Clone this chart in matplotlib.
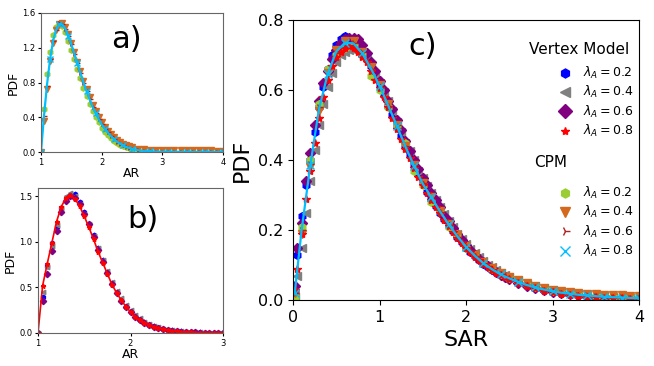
import matplotlib
matplotlib.use("Agg")
import matplotlib.pyplot as plt
from matplotlib.lines import Line2D

# ---- panel a: CPM, AR distributions ----
ar_a = [1.0, 1.05, 1.1, 1.15, 1.2, 1.25, 1.3, 1.35, 1.4, 1.45, 1.5, 1.55, 1.6, 1.65, 1.7,
        1.75, 1.8, 1.85, 1.9, 1.95, 2.0, 2.05, 2.1, 2.15, 2.2, 2.25, 2.3, 2.35, 2.4, 2.45, 2.5,
        2.6, 2.7, 2.8, 2.9, 3.0, 3.1, 3.2, 3.3, 3.4, 3.5, 3.6, 3.7, 3.8, 3.9, 4.0]
cpm_a_02 = [0.0, 0.5, 0.9, 1.15, 1.35, 1.44, 1.47, 1.45, 1.38, 1.28, 1.17, 1.07, 0.96, 0.85, 0.74,
            0.64, 0.55, 0.47, 0.40, 0.34, 0.28, 0.235, 0.195, 0.16, 0.13, 0.105, 0.085, 0.068, 0.053, 0.041, 0.032,
            0.018, 0.01, 0.006, 0.004, 0.003, 0.002, 0.002, 0.001, 0.001, 0.001, 0.001, 0.001, 0.001, 0.001, 0.001]
cpm_a_04 = [0.0, 0.36, 0.73, 1.05, 1.25, 1.40, 1.47, 1.49, 1.44, 1.36, 1.26, 1.15, 1.04, 0.93, 0.82,
            0.72, 0.63, 0.54, 0.47, 0.40, 0.34, 0.29, 0.245, 0.205, 0.17, 0.14, 0.115, 0.095, 0.078, 0.065, 0.054,
            0.04, 0.031, 0.026, 0.023, 0.021, 0.02, 0.02, 0.019, 0.019, 0.018, 0.018, 0.018, 0.018, 0.017, 0.017]
cpm_a_06 = [0.0, 0.42, 0.76, 1.07, 1.28, 1.41, 1.48, 1.47, 1.42, 1.34, 1.24, 1.13, 1.02, 0.91, 0.80,
            0.70, 0.61, 0.52, 0.45, 0.38, 0.32, 0.27, 0.225, 0.185, 0.15, 0.12, 0.097, 0.077, 0.06, 0.047, 0.036,
            0.021, 0.012, 0.007, 0.004, 0.003, 0.002, 0.002, 0.002, 0.001, 0.001, 0.001, 0.001, 0.001, 0.001, 0.001]
cpm_a_08 = [0.0, 0.42, 0.78, 1.07, 1.28, 1.41, 1.47, 1.47, 1.42, 1.34, 1.24, 1.13, 1.02, 0.91, 0.80,
            0.70, 0.61, 0.52, 0.45, 0.38, 0.32, 0.27, 0.225, 0.185, 0.15, 0.12, 0.097, 0.077, 0.06, 0.047, 0.036,
            0.021, 0.012, 0.007, 0.004, 0.003, 0.002, 0.002, 0.002, 0.001, 0.001, 0.001, 0.001, 0.001, 0.001, 0.001]

# ---- panel b: vertex model, AR distributions ----
ar_b = [1.0, 1.05, 1.1, 1.15, 1.2, 1.25, 1.3, 1.35, 1.4, 1.45, 1.5, 1.55, 1.6, 1.65, 1.7, 1.75, 1.8,
        1.85, 1.9, 1.95, 2.0, 2.05, 2.1, 2.15, 2.2, 2.25, 2.3, 2.35, 2.4, 2.45, 2.5, 2.55, 2.6, 2.65,
        2.7, 2.75, 2.8, 2.85, 2.9, 2.95, 3.0]
vm_b_02 = [0.0, 0.40, 0.73, 0.99, 1.16, 1.36, 1.47, 1.50, 1.52, 1.44, 1.33, 1.20, 1.08, 0.93, 0.80, 0.67, 0.55,
           0.45, 0.36, 0.29, 0.23, 0.185, 0.148, 0.117, 0.093, 0.073, 0.058, 0.045, 0.036, 0.028, 0.022, 0.017,
           0.013, 0.01, 0.008, 0.006, 0.005, 0.004, 0.003, 0.003, 0.002]
vm_b_04 = [0.0, 0.45, 0.72, 0.95, 1.18, 1.37, 1.50, 1.54, 1.50, 1.42, 1.31, 1.19, 1.06, 0.93, 0.80, 0.68, 0.56,
           0.46, 0.38, 0.31, 0.25, 0.2, 0.16, 0.126, 0.1, 0.08, 0.063, 0.049, 0.038, 0.03, 0.023, 0.018,
           0.014, 0.011, 0.008, 0.006, 0.005, 0.004, 0.003, 0.002, 0.002]
vm_b_06 = [0.0, 0.35, 0.65, 0.90, 1.12, 1.33, 1.45, 1.50, 1.48, 1.41, 1.31, 1.19, 1.05, 0.91, 0.78, 0.66, 0.54,
           0.44, 0.355, 0.285, 0.225, 0.178, 0.14, 0.11, 0.086, 0.067, 0.052, 0.04, 0.031, 0.024, 0.018, 0.014,
           0.011, 0.008, 0.006, 0.005, 0.004, 0.003, 0.002, 0.002, 0.001]
vm_b_08 = [0.0, 0.52, 0.76, 0.99, 1.22, 1.38, 1.48, 1.51, 1.47, 1.39, 1.28, 1.16, 1.03, 0.89, 0.77, 0.65, 0.53,
           0.44, 0.36, 0.29, 0.23, 0.18, 0.145, 0.115, 0.09, 0.07, 0.055, 0.042, 0.032, 0.024, 0.018, 0.013,
           0.010, 0.007, 0.005, 0.004, 0.003, 0.002, 0.002, 0.001, 0.001]

# ---- panel c: SAR distributions, both models ----
sar_vm = [0.02, 0.05, 0.1, 0.15, 0.2, 0.25, 0.3, 0.35, 0.4, 0.45, 0.5, 0.55, 0.6, 0.65, 0.7, 0.75, 0.8,
          0.85, 0.9, 0.95, 1.0, 1.05, 1.1, 1.15, 1.2, 1.25, 1.3, 1.35, 1.4, 1.45, 1.5, 1.55, 1.6, 1.65,
          1.7, 1.75, 1.8, 1.85, 1.9, 1.95, 2.0, 2.05, 2.1, 2.15, 2.2, 2.25, 2.3, 2.35, 2.4, 2.45, 2.5,
          2.6, 2.7, 2.8, 2.9, 3.0, 3.1, 3.2, 3.3, 3.4, 3.5, 3.6, 3.7, 3.8, 3.9, 4.0]
vm_c_02 = [0.02, 0.13, 0.24, 0.33, 0.40, 0.48, 0.55, 0.61, 0.66, 0.70, 0.73, 0.745, 0.755, 0.75, 0.745, 0.73,
           0.715, 0.70, 0.67, 0.64, 0.615, 0.585, 0.555, 0.53, 0.50, 0.47, 0.44, 0.415, 0.385, 0.36, 0.335,
           0.31, 0.29, 0.27, 0.25, 0.232, 0.215, 0.197, 0.18, 0.165, 0.15, 0.138, 0.126, 0.114, 0.104, 0.095,
           0.087, 0.079, 0.072, 0.066, 0.061, 0.051, 0.042, 0.035, 0.029, 0.024, 0.02, 0.017, 0.014, 0.012,
           0.01, 0.009, 0.008, 0.007, 0.006, 0.005]
vm_c_04 = [0.01, 0.07, 0.15, 0.25, 0.34, 0.43, 0.50, 0.56, 0.61, 0.65, 0.68, 0.70, 0.71, 0.715, 0.715, 0.71,
           0.70, 0.685, 0.67, 0.645, 0.62, 0.595, 0.57, 0.54, 0.51, 0.48, 0.45, 0.425, 0.40, 0.37, 0.35,
           0.325, 0.305, 0.285, 0.265, 0.245, 0.226, 0.208, 0.19, 0.175, 0.16, 0.146, 0.133, 0.122, 0.111,
           0.101, 0.093, 0.085, 0.078, 0.071, 0.066, 0.056, 0.047, 0.039, 0.033, 0.028, 0.023, 0.02, 0.017,
           0.014, 0.012, 0.011, 0.009, 0.008, 0.007, 0.006]
vm_c_06 = [0.04, 0.15, 0.22, 0.34, 0.42, 0.50, 0.57, 0.62, 0.655, 0.69, 0.715, 0.735, 0.745, 0.75, 0.75, 0.745,
           0.73, 0.705, 0.68, 0.655, 0.625, 0.60, 0.57, 0.545, 0.515, 0.485, 0.455, 0.425, 0.40, 0.375, 0.35,
           0.33, 0.305, 0.285, 0.265, 0.24, 0.225, 0.205, 0.19, 0.172, 0.158, 0.143, 0.13, 0.118, 0.108,
           0.098, 0.088, 0.08, 0.072, 0.066, 0.06, 0.05, 0.041, 0.034, 0.028, 0.023, 0.019, 0.016, 0.013,
           0.011, 0.01, 0.008, 0.007, 0.006, 0.005, 0.004]
vm_c_08 = [0.03, 0.09, 0.19, 0.29, 0.37, 0.45, 0.52, 0.58, 0.63, 0.67, 0.695, 0.71, 0.72, 0.725, 0.72, 0.71,
           0.695, 0.68, 0.655, 0.63, 0.605, 0.58, 0.55, 0.52, 0.49, 0.46, 0.432, 0.405, 0.378, 0.352, 0.328,
           0.307, 0.287, 0.267, 0.248, 0.229, 0.211, 0.194, 0.178, 0.163, 0.149, 0.136, 0.124, 0.113, 0.103,
           0.094, 0.086, 0.078, 0.071, 0.065, 0.059, 0.049, 0.04, 0.033, 0.027, 0.022, 0.018, 0.015, 0.012,
           0.01, 0.008, 0.007, 0.006, 0.005, 0.004, 0.004]

sar_cpm = [0.02, 0.1, 0.2, 0.3, 0.4, 0.5, 0.6, 0.7, 0.8, 0.9, 1.0, 1.1, 1.2, 1.3, 1.4, 1.5, 1.6, 1.7,
           1.8, 1.9, 2.0, 2.1, 2.2, 2.3, 2.4, 2.5, 2.6, 2.7, 2.8, 2.9, 3.0, 3.1, 3.2, 3.3, 3.4, 3.5,
           3.6, 3.7, 3.8, 3.9, 4.0]
cpm_c_02 = [0.01, 0.21, 0.40, 0.56, 0.66, 0.70, 0.72, 0.725, 0.70, 0.64, 0.60, 0.55, 0.50, 0.45, 0.37, 0.33,
            0.28, 0.255, 0.21, 0.19, 0.15, 0.13, 0.11, 0.09, 0.075, 0.064, 0.054, 0.045, 0.038, 0.032, 0.027,
            0.023, 0.019, 0.016, 0.014, 0.012, 0.011, 0.01, 0.009, 0.008, 0.007]
cpm_c_04 = [0.02, 0.19, 0.38, 0.54, 0.65, 0.715, 0.74, 0.74, 0.71, 0.665, 0.615, 0.56, 0.50, 0.44, 0.385,
            0.335, 0.295, 0.255, 0.218, 0.185, 0.155, 0.13, 0.108, 0.091, 0.077, 0.066, 0.056, 0.048, 0.041,
            0.035, 0.03, 0.026, 0.023, 0.02, 0.018, 0.016, 0.015, 0.014, 0.013, 0.012, 0.012]
cpm_c_06 = [0.02, 0.20, 0.39, 0.55, 0.64, 0.705, 0.73, 0.735, 0.71, 0.66, 0.61, 0.555, 0.50, 0.44, 0.385,
            0.335, 0.29, 0.25, 0.215, 0.18, 0.15, 0.125, 0.104, 0.087, 0.073, 0.061, 0.051, 0.043, 0.036,
            0.03, 0.025, 0.021, 0.018, 0.015, 0.013, 0.011, 0.01, 0.009, 0.008, 0.007, 0.006]
cpm_c_08 = [0.02, 0.20, 0.385, 0.545, 0.645, 0.71, 0.735, 0.733, 0.705, 0.662, 0.612, 0.556, 0.498, 0.438,
            0.383, 0.332, 0.293, 0.253, 0.216, 0.182, 0.152, 0.127, 0.105, 0.088, 0.073, 0.062, 0.052, 0.043,
            0.036, 0.030, 0.025, 0.021, 0.018, 0.015, 0.013, 0.011, 0.009, 0.008, 0.007, 0.006, 0.005]

lambda_labels = [r"$\lambda_A=0.2$", r"$\lambda_A=0.4$", r"$\lambda_A=0.6$", r"$\lambda_A=0.8$"]

# marker styles: (marker, color, size in panel c, size in legend)
vm_styles = [("h", "blue", 5.5, 6.5), ("<", "grey", 6, 7), ("D", "purple", 5, 7.5), ("*", "red", 6, 6)]
cpm_styles = [("h", "yellowgreen", 5.5, 6.5), ("v", "chocolate", 5.5, 7.5), ("4", "firebrick", 6, 7),
              ("x", "deepskyblue", 5.5, 7)]

fig = plt.figure(figsize=(6.54, 3.66), dpi=100)
W, H = 654, 366


def add_ax(left, top, right, bottom):
    return fig.add_axes([left / W, 1 - bottom / H, (right - left) / W, (bottom - top) / H])


ax_a = add_ax(41, 13, 223, 152)
ax_b = add_ax(38, 188, 223, 333)
ax_c = add_ax(293, 20, 639, 300)

# a)
for y, (m, c, s, ls) in zip([cpm_a_02, cpm_a_04, cpm_a_06], cpm_styles[:3]):
    ax_a.plot(ar_a, y, linestyle="none", marker=m, color=c, markersize=3.8)
ax_a.plot(ar_a, cpm_a_08, color="deepskyblue", lw=1.6, marker="x", markersize=4.5,
          markevery=3)
ax_a.set_xlim(1, 4)
ax_a.set_ylim(0, 1.6)
ax_a.set_xticks([1, 2, 3, 4])
ax_a.set_yticks([0, 0.4, 0.8, 1.2, 1.6])
ax_a.set_xlabel("AR", fontsize=9, labelpad=0)
ax_a.set_ylabel("PDF", fontsize=9, labelpad=2)
ax_a.tick_params(labelsize=6, length=2.5, pad=1.5)
ax_a.text(0.47, 0.81, "a)", transform=ax_a.transAxes, fontsize=22, ha="center", va="center")

# b)
for y, (m, c, s, ls) in zip([vm_b_02, vm_b_04, vm_b_06], vm_styles[:3]):
    ax_b.plot(ar_b, y, linestyle="none", marker=m, color=c, markersize=3.2)
ax_b.plot(ar_b, vm_b_08, color="red", lw=1.2, marker="*", markersize=3.5)
ax_b.set_xlim(1, 3)
ax_b.set_ylim(0, 1.59)
ax_b.set_xticks([1, 2, 3])
ax_b.set_yticks([0, 0.5, 1.0, 1.5])
ax_b.set_xlabel("AR", fontsize=9, labelpad=0)
ax_b.set_ylabel("PDF", fontsize=9, labelpad=2)
ax_b.tick_params(labelsize=6, length=2.5, pad=1.5)
ax_b.text(0.565, 0.78, "b)", transform=ax_b.transAxes, fontsize=22, ha="center", va="center")

for ax in (ax_a, ax_b):
    for sp in ax.spines.values():
        sp.set_color("#666666")
        sp.set_linewidth(0.8)

# c) - draw order keeps the red stars and cyan fit on top
series_c = [
    (sar_vm, vm_c_02, vm_styles[0]),
    (sar_vm, vm_c_04, vm_styles[1]),
    (sar_vm, vm_c_06, vm_styles[2]),
    (sar_cpm, cpm_c_02, cpm_styles[0]),
    (sar_cpm, cpm_c_04, cpm_styles[1]),
    (sar_vm, vm_c_08, vm_styles[3]),
    (sar_cpm, cpm_c_06, cpm_styles[2]),
]
for x, y, (m, c, s, ls) in series_c:
    ax_c.plot(x, y, linestyle="none", marker=m, color=c, markersize=s)
ax_c.plot(sar_cpm, cpm_c_08, color="deepskyblue", lw=1.6)
ax_c.plot(sar_cpm[::2], cpm_c_08[::2], linestyle="none", marker="x", color="deepskyblue",
          markersize=5.5)

ax_c.set_xlim(0, 4)
ax_c.set_ylim(0, 0.8)
ax_c.set_xticks([0, 1, 2, 3, 4])
ax_c.set_yticks([0, 0.2, 0.4, 0.6, 0.8])
ax_c.tick_params(labelsize=11.5)
ax_c.set_xlabel("SAR", fontsize=16)
ax_c.set_ylabel("PDF", fontsize=16)
ax_c.text(0.374, 0.904, "c)", transform=ax_c.transAxes, fontsize=22, ha="center", va="center")


def proxies(styles):
    return [Line2D([], [], linestyle="none", marker=m, color=c, markersize=ls)
            for m, c, s, ls in styles]


leg_kw = dict(loc="upper left", frameon=False, fontsize=9, borderaxespad=0, borderpad=0,
              handletextpad=0.45, handlelength=2.0, labelspacing=0.26,
              bbox_transform=fig.transFigure)
leg1 = ax_c.legend(proxies(vm_styles), lambda_labels, bbox_to_anchor=(552.5 / W, 1 - 65 / H), **leg_kw)
ax_c.add_artist(leg1)
ax_c.legend(proxies(cpm_styles), lambda_labels, bbox_to_anchor=(552.5 / W, 1 - 185 / H), **leg_kw)
fig.text(579.5 / W, 1 - 50 / H, "Vertex Model", fontsize=11, ha="center", va="center")
fig.text(551 / W, 1 - 163 / H, "CPM", fontsize=11, ha="center", va="center")

fig.savefig("out.png", dpi=100)
